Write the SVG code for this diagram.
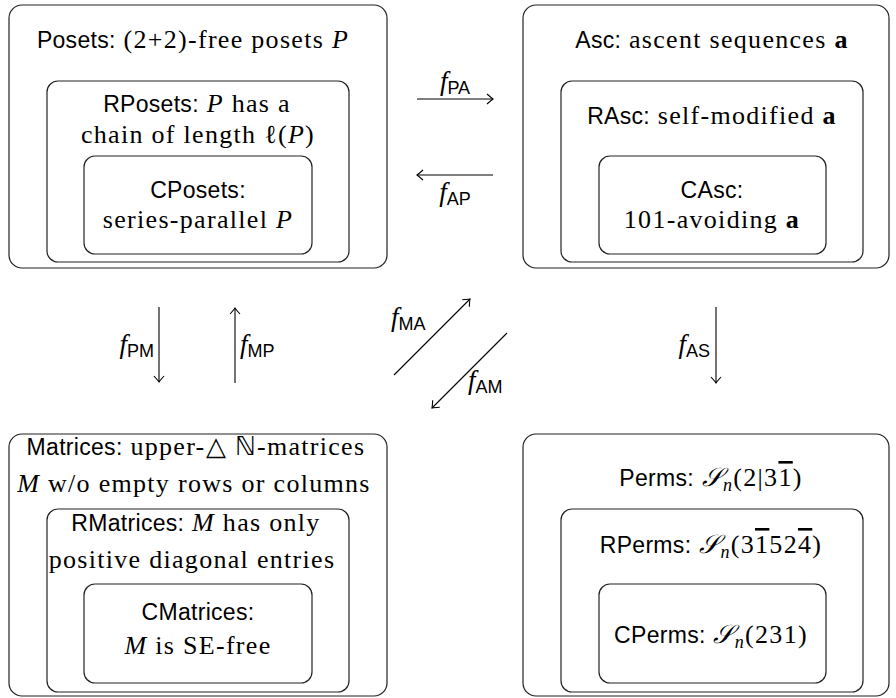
<svg xmlns="http://www.w3.org/2000/svg" width="896" height="698" viewBox="0 0 896 698">
<defs>
<style>
.box{fill:none;stroke:#222;stroke-width:1.2}
.t{font-family:"Liberation Serif",serif;font-size:26px;text-anchor:middle;fill:#000;letter-spacing:1.3px}
.s{font-family:"Liberation Sans",sans-serif;font-size:23px;letter-spacing:0.3px}
.i{font-style:italic}
.b{font-weight:bold}
.sub{font-family:"Liberation Sans",sans-serif;font-size:18px;font-style:normal}
.ol{text-decoration:overline}
.lab{font-family:"Liberation Serif",serif;font-size:27px;fill:#000}
.edge{fill:none;stroke:#000;stroke-width:1.1;marker-end:url(#ah)}
</style>
<marker id="ah" viewBox="-8 -6 10 12" refX="0" refY="0" markerWidth="10" markerHeight="12" markerUnits="userSpaceOnUse" orient="auto">
<path d="M-6,-5 Q-1.5,-1 0,0 Q-1.5,1 -6,5" fill="none" stroke="#000" stroke-width="1.1"/>
</marker>
</defs>
<rect width="896" height="698" fill="#fff"/>

<g id="posets">
<rect class="box" x="9" y="5" width="378" height="263" rx="13"/>
<text class="t" x="193" y="48" letter-spacing="1px"><tspan class="s">Posets:</tspan> (2+2)-free posets <tspan class="i">P</tspan></text>
</g>
<g id="rposets">
<rect class="box" x="47" y="81" width="302" height="181" rx="11"/>
<text class="t" x="197" y="112"><tspan class="s">RPosets:</tspan> <tspan class="i">P</tspan> has a</text>
<text class="t" x="198" y="143">chain of length ℓ(<tspan class="i">P</tspan>)</text>
</g>
<g id="cposets">
<rect class="box" x="84" y="156" width="228" height="98" rx="11"/>
<text class="t" x="198" y="198"><tspan class="s">CPosets:</tspan></text>
<text class="t" x="198" y="228">series-parallel <tspan class="i">P</tspan></text>
</g>

<g id="asc">
<rect class="box" x="523" y="5" width="366" height="263" rx="13"/>
<text class="t" x="712" y="48"><tspan class="s">Asc:</tspan> ascent sequences <tspan class="b">a</tspan></text>
</g>
<g id="rasc">
<rect class="box" x="561" y="81" width="302" height="181" rx="11"/>
<text class="t" x="712" y="124"><tspan class="s">RAsc:</tspan> self-modified <tspan class="b">a</tspan></text>
</g>
<g id="casc">
<rect class="box" x="599" y="156" width="227" height="98" rx="11"/>
<text class="t" x="712" y="198"><tspan class="s">CAsc:</tspan></text>
<text class="t" x="712" y="228">101-avoiding <tspan class="b">a</tspan></text>
</g>

<g id="matrices">
<rect class="box" x="9" y="434" width="378" height="262" rx="13"/>
<text class="t" x="196" y="455"><tspan class="s">Matrices:</tspan> upper-△ ℕ-matrices</text>
<text class="t" x="194" y="492"><tspan class="i">M</tspan> w/o empty rows or columns</text>
</g>
<g id="rmatrices">
<rect class="box" x="47" y="509" width="302" height="183" rx="11"/>
<text class="t" x="196" y="531"><tspan class="s">RMatrices:</tspan> <tspan class="i">M</tspan> has only</text>
<text class="t" x="192" y="568">positive diagonal entries</text>
</g>
<g id="cmatrices">
<rect class="box" x="84" y="584" width="228" height="99" rx="11"/>
<text class="t" x="198" y="620"><tspan class="s">CMatrices:</tspan></text>
<text class="t" x="198" y="654"><tspan class="i">M</tspan> is SE-free</text>
</g>

<g id="perms">
<rect class="box" x="523" y="434" width="366" height="262" rx="13"/>
<text class="t" x="711" y="486"><tspan class="s">Perms:</tspan> <tspan class="i">𝒮</tspan><tspan class="i" font-size="18" dy="5">n</tspan><tspan dy="-5">(2|3</tspan><tspan class="ol">1</tspan>)</text>
</g>
<g id="rperms">
<rect class="box" x="561" y="509" width="302" height="183" rx="11"/>
<text class="t" x="711" y="553"><tspan class="s">RPerms:</tspan> <tspan class="i">𝒮</tspan><tspan class="i" font-size="18" dy="5">n</tspan><tspan dy="-5">(3</tspan><tspan class="ol">1</tspan>52<tspan class="ol">4</tspan>)</text>
</g>
<g id="cperms">
<rect class="box" x="599" y="584" width="227" height="99" rx="11"/>
<text class="t" x="711" y="643"><tspan class="s">CPerms:</tspan> <tspan class="i">𝒮</tspan><tspan class="i" font-size="18" dy="5">n</tspan><tspan dy="-5">(231)</tspan></text>
</g>

<g id="connectors">
<line class="edge" x1="417" y1="99" x2="493" y2="99"/>
<line class="edge" x1="493" y1="175" x2="417" y2="175"/>
<line class="edge" x1="159" y1="307" x2="159" y2="382"/>
<line class="edge" x1="235" y1="383" x2="235" y2="308"/>
<line class="edge" x1="394" y1="375" x2="470" y2="299"/>
<line class="edge" x1="507" y1="333" x2="432" y2="408"/>
<line class="edge" x1="716" y1="307" x2="716" y2="383"/>
<text class="lab" x="455" y="90" text-anchor="middle"><tspan class="i">f</tspan><tspan class="sub" dy="4">PA</tspan></text>
<text class="lab" x="455" y="201" text-anchor="middle"><tspan class="i">f</tspan><tspan class="sub" dy="4">AP</tspan></text>
<text class="lab" x="154" y="353" text-anchor="end"><tspan class="i">f</tspan><tspan class="sub" dy="4">PM</tspan></text>
<text class="lab" x="240" y="353" text-anchor="start"><tspan class="i">f</tspan><tspan class="sub" dy="4">MP</tspan></text>
<text class="lab" x="391" y="326" text-anchor="start"><tspan class="i">f</tspan><tspan class="sub" dy="4">MA</tspan></text>
<text class="lab" x="468" y="389" text-anchor="start"><tspan class="i">f</tspan><tspan class="sub" dy="4">AM</tspan></text>
<text class="lab" x="710" y="353" text-anchor="end"><tspan class="i">f</tspan><tspan class="sub" dy="4">AS</tspan></text>
</g>
</svg>
